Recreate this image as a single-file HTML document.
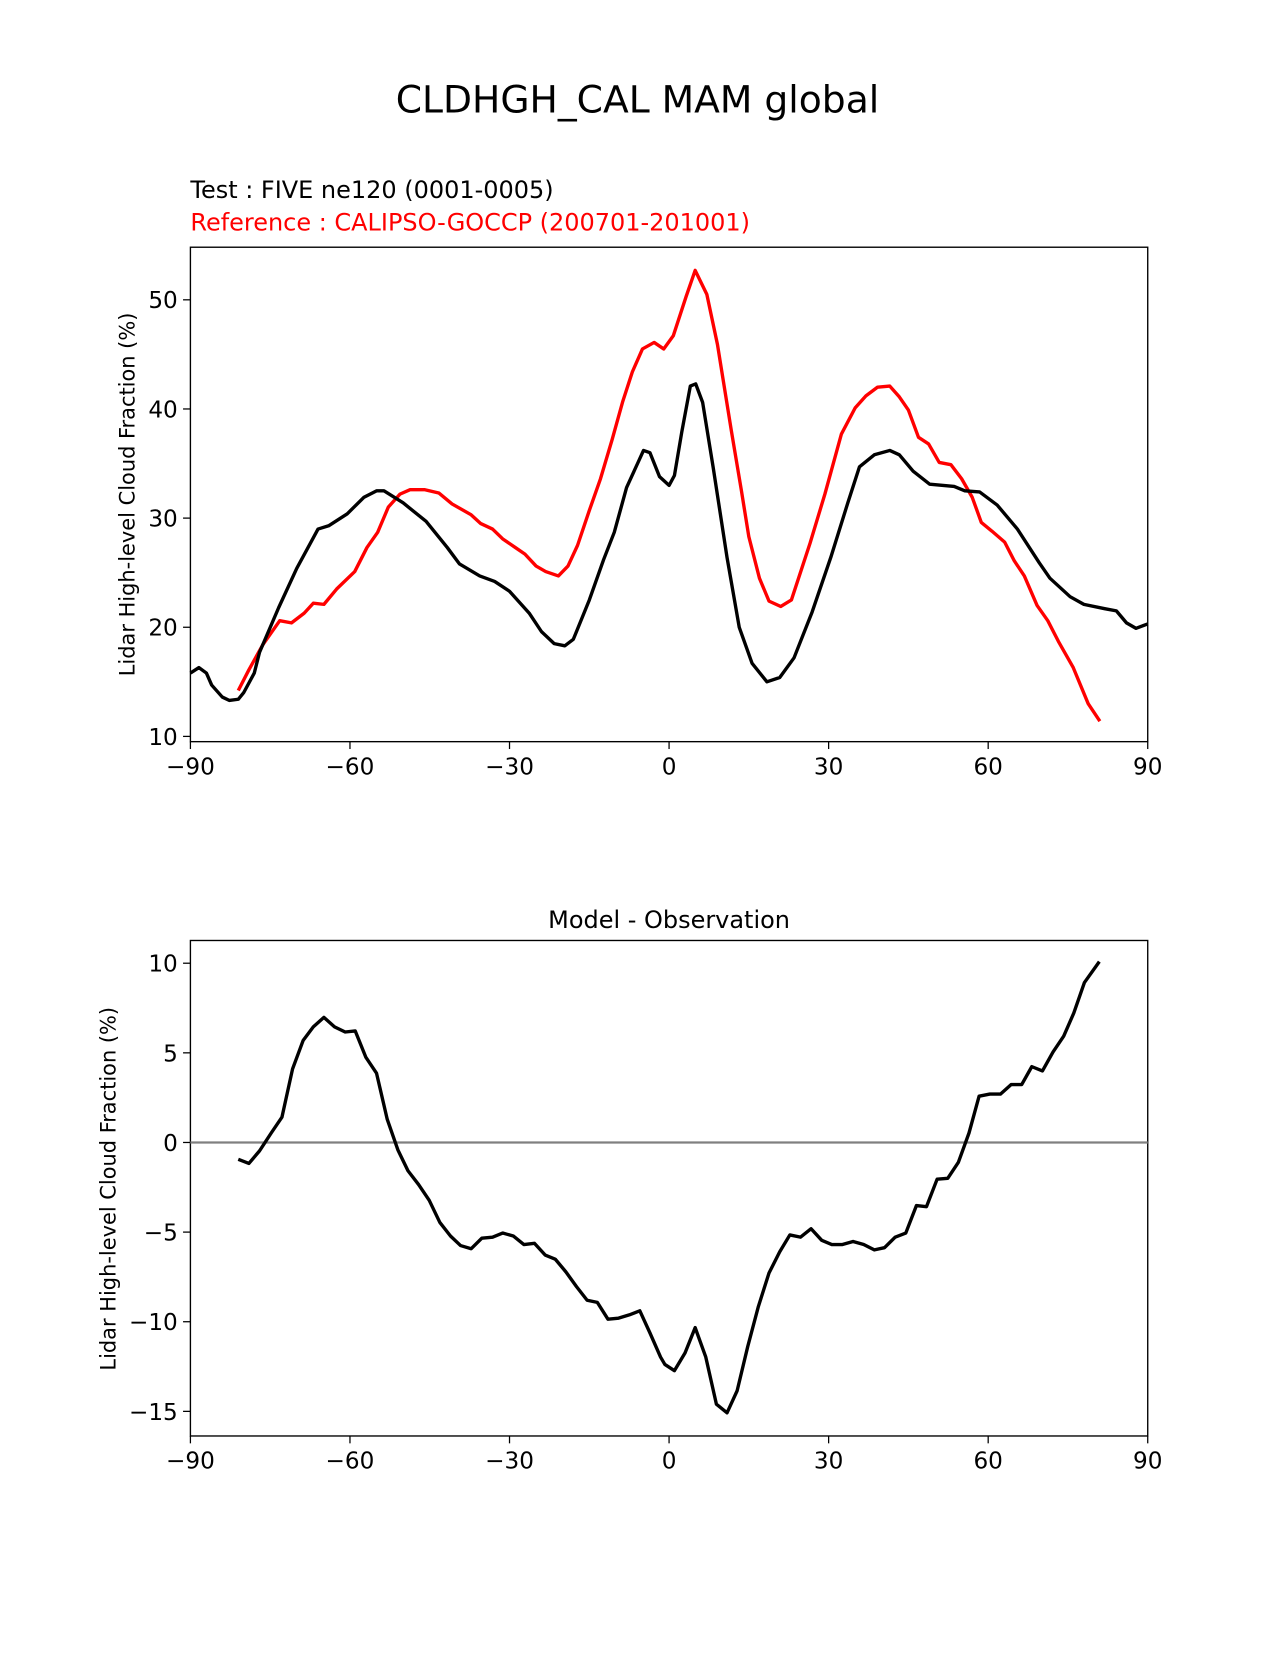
<!DOCTYPE html>
<html><head><meta charset="utf-8"><style>
body{margin:0;background:#fff}
svg text{font-family:"DejaVu Sans","Liberation Sans",sans-serif}
</style></head><body>
<svg id="chart" width="1275" height="1650" xmlns="http://www.w3.org/2000/svg">
<rect width="1275" height="1650" fill="#fff"/>
<g transform="scale(1.052)">
<text x="606" y="107" font-size="35.8" text-anchor="middle">CLDHGH_CAL MAM global</text>
<text x="181" y="188" font-size="22.8">Test : FIVE ne120 (0001-0005)</text>
<text x="181" y="219" font-size="22.8" fill="#ff0000">Reference : CALIPSO-GOCCP (200701-201001)</text>
<text x="636" y="882" font-size="22.8" text-anchor="middle">Model - Observation</text>
<g id="top"></g><g id="bot"></g>
</g>
</svg>
<script>
const xTicks=[-90,-60,-30,0,30,60,90];
const topYTicks=[10,20,30,40,50];
const botYTicks=[-15,-10,-5,0,5,10];
const testLat=[-90,-88.4,-87,-86,-84,-82.7,-81,-80,-78,-77,-73.4,-70,-67,-66,-64,-60.5,-57.4,-55,-53.6,-50,-45.7,-41.7,-39.4,-35.6,-32.8,-30,-26.3,-24,-21.6,-19.6,-18,-15,-12.3,-10.3,-8,-4.8,-3.6,-1.8,0,1,2.4,4,5,6.3,8.3,10.9,13.2,15.6,18.4,20.8,23.5,26.9,30.4,33.6,35.8,38.6,41.5,43.3,45.9,49,53.6,55.6,58.4,61.7,65.5,69.6,71.6,75.4,78,81.9,84.1,86,87.8,90];
const testVal=[15.8,16.3,15.8,14.7,13.6,13.3,13.4,14.0,15.8,17.7,21.8,25.4,28.1,29.0,29.3,30.4,31.9,32.5,32.5,31.4,29.7,27.3,25.8,24.7,24.2,23.3,21.3,19.6,18.5,18.3,18.9,22.5,26.2,28.7,32.8,36.2,36.0,33.8,33.0,33.9,37.9,42.1,42.3,40.6,34.6,26.4,20.0,16.7,15.0,15.4,17.2,21.4,26.4,31.4,34.7,35.8,36.2,35.8,34.3,33.1,32.9,32.5,32.4,31.2,29.0,25.9,24.5,22.8,22.1,21.7,21.5,20.4,19.9,20.3];
const refLat=[-81,-79,-76.4,-73.2,-71,-68.6,-66.9,-64.9,-62.5,-59.1,-56.8,-54.8,-52.8,-50.6,-48.7,-45.9,-43.3,-40.8,-37.2,-35.4,-33.2,-31.3,-28.9,-27.1,-25,-23.2,-20.8,-19,-17.2,-15,-12.9,-10.7,-8.7,-6.9,-5,-2.8,-1,0.8,3.2,4.9,7.1,9.1,11.7,13.6,15,17,18.8,21,23,26.5,29.3,32.4,35,37,39.2,41.5,43.3,45,46.9,48.8,50.8,53,55,57,58.7,60.7,63.1,64.9,66.8,69.2,71.2,73.2,76,78.8,81];
const refVal=[14.2,16.1,18.4,20.6,20.4,21.3,22.2,22.1,23.5,25.1,27.3,28.7,31.0,32.2,32.6,32.6,32.3,31.3,30.3,29.5,29.0,28.1,27.3,26.7,25.6,25.1,24.7,25.6,27.5,30.7,33.6,37.2,40.7,43.4,45.5,46.1,45.5,46.7,50.3,52.7,50.5,45.9,38.0,32.5,28.3,24.5,22.4,21.9,22.5,27.7,32.2,37.7,40.1,41.2,42.0,42.1,41.1,39.9,37.4,36.8,35.1,34.9,33.6,31.9,29.6,28.8,27.8,26.1,24.7,22.0,20.6,18.7,16.3,13.0,11.4];
const diffLat=[-81,-79,-77,-74.8,-72.8,-70.8,-68.8,-66.9,-64.9,-62.9,-60.9,-59,-57,-55,-53,-51,-49.1,-47.1,-45.1,-43.1,-41.1,-39.2,-37.2,-35.2,-33.2,-31.3,-29.3,-27.3,-25.3,-23.3,-21.4,-19.4,-17.4,-15.4,-13.5,-11.5,-9.5,-7.5,-5.5,-3.6,-1.6,-0.8,1,3,4.9,6.9,8.9,10.9,12.8,14.8,16.8,18.8,20.8,22.7,24.7,26.7,28.7,30.6,32.6,34.6,36.6,38.6,40.5,42.5,44.5,46.5,48.4,50.4,52.4,54.4,56.4,58.3,60.3,62.3,64.3,66.3,68.2,70.2,72.2,74.2,76.1,78.1,80.9];
const diffVal=[-0.94,-1.17,-0.47,0.53,1.41,4.1,5.7,6.45,6.98,6.45,6.16,6.22,4.75,3.87,1.29,-0.41,-1.58,-2.35,-3.23,-4.46,-5.22,-5.75,-5.93,-5.34,-5.28,-5.05,-5.22,-5.69,-5.63,-6.28,-6.51,-7.22,-8.04,-8.8,-8.92,-9.86,-9.8,-9.62,-9.39,-10.62,-11.97,-12.38,-12.73,-11.74,-10.33,-11.97,-14.6,-15.08,-13.85,-11.38,-9.15,-7.28,-6.1,-5.16,-5.28,-4.81,-5.46,-5.69,-5.69,-5.52,-5.69,-5.99,-5.87,-5.28,-5.05,-3.52,-3.58,-2.05,-2.0,-1.11,0.53,2.58,2.7,2.7,3.23,3.23,4.23,3.99,5.05,5.93,7.22,8.92,10.09];
const NS="http://www.w3.org/2000/svg";
function mk(p,t,a){const e=document.createElementNS(NS,t);for(const k in a)e.setAttribute(k,a[k]);p.appendChild(e);return e;}
const X0=181,X1=1091;
const xs=v=>X0+(v+90)/180*(X1-X0);
function panel(g,top,bottom,ys,yt,name){
  const box=mk(g,'rect',{x:X0,y:top,width:X1-X0,height:bottom-top,fill:'none',stroke:'#000','stroke-width':1.3});
  
  
  xTicks.forEach(t=>{const x=xs(t);mk(g,'line',{x1:x,x2:x,y1:bottom,y2:bottom+7,stroke:'#000','stroke-width':1.2});
    const l=mk(g,'text',{x:x,y:bottom+31,'font-size':22,'text-anchor':'middle'});l.textContent=(t<0?'\u2212'+(-t):t);
    
    });
  yt.forEach(t=>{const y=ys(t);mk(g,'line',{x1:X0-7,x2:X0,y1:y,y2:y,stroke:'#000','stroke-width':1.2});
    const l=mk(g,'text',{x:X0-12,y:y+8,'font-size':22,'text-anchor':'end'});l.textContent=(t<0?'\u2212'+(-t):t);
    
    });
}
function line(g,lat,val,ys,col,name){
  const d=lat.map((v,i)=>(i?'L':'M')+xs(v).toFixed(1)+','+ys(val[i]).toFixed(1)).join('');
  const p=mk(g,'path',{d:d,fill:'none',stroke:col,'stroke-width':3.2,'stroke-linejoin':'round'});
  
  
}
const gt=document.getElementById('top'),gb=document.getElementById('bot');
const ysT=v=>700-(v-10)*10.375;
panel(gt,235,705,ysT,topYTicks,'top');
line(gt,refLat,refVal,ysT,'#ff0000','reference-line');
line(gt,testLat,testVal,ysT,'#000','test-line');
let yl=mk(gt,'text',{x:0,y:0,'font-size':19.9,'text-anchor':'middle',transform:'translate(128,470) rotate(-90)'});yl.textContent='Lidar High-level Cloud Fraction (%)';


const ysB=v=>1086-v*17.04;
panel(gb,894,1365,ysB,botYTicks,'bottom');
const z=mk(gb,'line',{x1:X0,x2:X1,y1:ysB(0),y2:ysB(0),stroke:'#808080','stroke-width':2.2});


line(gb,diffLat,diffVal,ysB,'#000','difference-line');
yl=mk(gb,'text',{x:0,y:0,'font-size':19.9,'text-anchor':'middle',transform:'translate(110,1130) rotate(-90)'});yl.textContent='Lidar High-level Cloud Fraction (%)';


</script>
</body></html>
